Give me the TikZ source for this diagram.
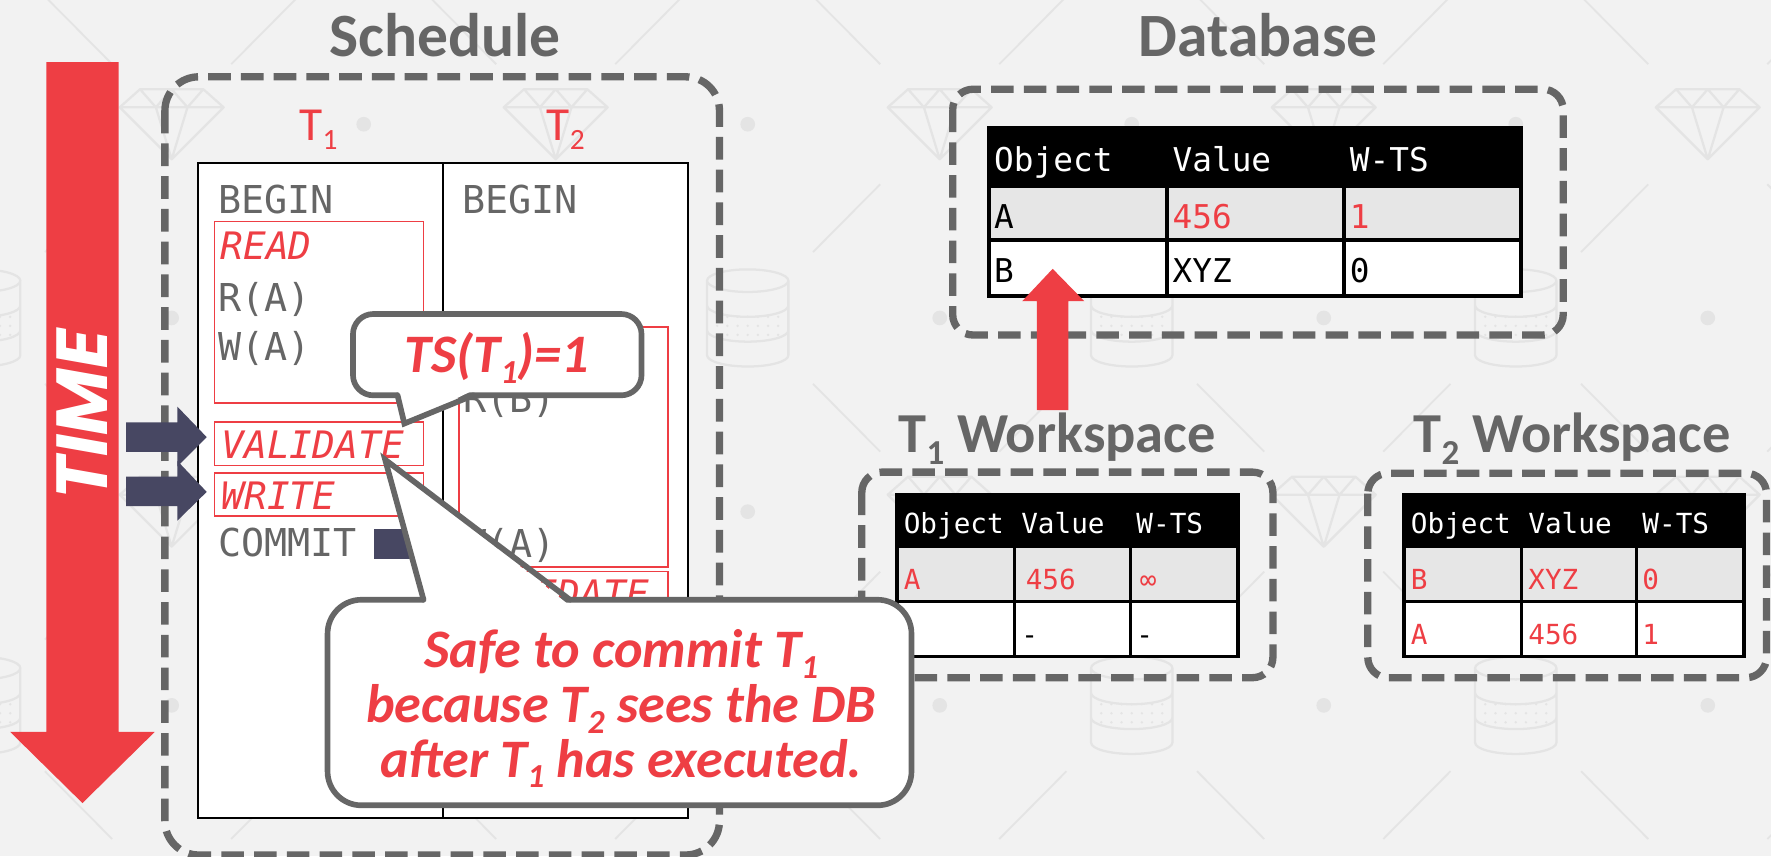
\documentclass[tikz,border=0pt]{standalone}
\usepackage{fontspec}
\setmainfont{Carlito}
\newfontfamily\monof{DejaVu Sans Mono}
\newfontfamily\timef{Poppins}
\definecolor{accent}{HTML}{EE3E44}
\definecolor{navy}{HTML}{474762}
\definecolor{ink}{HTML}{666666}
\definecolor{paper}{HTML}{F2F2F2}
\definecolor{rowgray}{HTML}{E6E6E6}
\definecolor{faint}{HTML}{E4E4E4}
% lowered, smaller index digit (T_1, T_2)
\newcommand\lowidx[1]{\raisebox{-0.2em}{\scalebox{0.62}{#1}}}
\tikzset{
  dashbox/.style={draw=ink, line width=6.5pt, dash pattern=on 20pt off 9pt, rounded corners=20pt},
  heading/.style={text=ink, font=\fontsize{54.5}{60}\selectfont\bfseries, anchor=base, inner sep=0pt},
  wsheading/.style={heading, font=\fontsize{50}{60}\selectfont\bfseries},
  txn/.style={text=accent, font=\fontsize{42}{50}\selectfont, anchor=base, inner sep=0pt},
  op/.style={font=\monof\fontsize{34}{40}\selectfont, text=ink, anchor=base west, inner sep=0pt},
  phase/.style={draw=accent, line width=1.5pt},
  phasetxt/.style={font=\monof\itshape\fontsize{33.5}{40}\selectfont, text=accent, anchor=base west, inner sep=0pt},
  bubble/.style={draw=ink, fill=white, line width=5pt},
  bubbletail/.style={draw=ink, line width=5pt, line cap=round, line join=miter},
  note/.style={font=\bfseries\itshape\fontsize{48}{50}\selectfont, text=accent, anchor=base, inner sep=0pt},
  dbcell/.style={font=\monof\fontsize{29}{34}\selectfont, anchor=base west, inner sep=0pt},
  wscell/.style={font=\monof\fontsize{24.5}{30}\selectfont, anchor=base west, inner sep=0pt},
  grid/.style={draw=black, line width=3.5pt},
  navyarrow/.style={fill=navy},
  timearrow/.style={fill=accent},
  wmline/.style={draw=faint, line width=1.6pt},
  gem/.pic={
    \draw[faint, line width=2pt, line join=round]
      (-28,-31) -- (28,-31) -- (46,-15) -- (0,31) -- (-46,-15) -- cycle
      (-46,-15) -- (46,-15)
      (-28,-31) -- (-14,-15) -- (0,-31) -- (14,-15) -- (28,-31)
      (-14,-15) -- (0,31) -- (14,-15);
  },
  drum/.pic={
    \draw[faint, line width=2pt]
      (0,-33) ellipse [x radius=36, y radius=10]
      (-36,-33) -- (-36,33) arc [start angle=180, end angle=0, x radius=36, y radius=10] -- (36,-33)
      (-36,-11) arc [start angle=180, end angle=0, x radius=36, y radius=10]
      (-36,11) arc [start angle=180, end angle=0, x radius=36, y radius=10];
    \foreach \u in {-27,-18,...,27} \foreach \v in {3,11,19}
      \fill[faint] (\u,\v-4) circle [radius=1.2pt];
  },
}
\begin{document}
\begin{tikzpicture}[x=1pt, y=-1pt]
\useasboundingbox (0,0) rectangle (1568,758);
\fill[paper] (0,0) rectangle (1568,758);

% ---------------- faint background tiling ----------------
\begin{scope}
\clip (0,0) rectangle (1568,758);
\foreach \i in {-1,1,...,9} \foreach \j in {-1,1,3,5} {
  \foreach \sx in {-1,1} \foreach \sy in {-1,1}
    \draw[wmline] ({152+170*\i+0.34*170*\sx},{110+171.5*\j+0.34*171.5*\sy})
               -- ({152+170*\i+0.69*170*\sx},{110+171.5*\j+0.69*171.5*\sy});
  \pic at ({152+170*\i},{110+171.5*\j}) {drum};
}
\foreach \i in {-2,0,...,10} \foreach \j in {0,2,4}
  \pic at ({152+170*\i},{110+171.5*\j}) {gem};
\foreach \i in {-1,1,...,9} \foreach \j in {0,2,4}
  \fill[faint] ({152+170*\i},{110+171.5*\j}) circle [radius=6.5pt];
\foreach \i in {-2,0,...,10} \foreach \j in {-1,1,3,5}
  \fill[faint] ({152+170*\i},{110+171.5*\j}) circle [radius=6.5pt];
\end{scope}

% ---------------- time axis ----------------
\fill[timearrow] (41,55) -- (105,55) -- (105,648) -- (137,648) -- (73,711) -- (9,648) -- (41,648) -- cycle;
\node[rotate=90, text=white, font=\timef\bfseries\itshape\fontsize{64}{70}\selectfont, inner sep=0pt] (time) at (73,367) {TIME};

% ---------------- schedule ----------------
\node[heading] (schedtitle) at (394,50) {Schedule};
\draw[dashbox, rounded corners=30pt] (146,68) rectangle (637,757);
\node[txn] (t1) at (282,124) {T\lowidx{1}};
\node[txn] (t2) at (501,124) {T\lowidx{2}};
\draw[fill=white, draw=black, line width=1.5pt] (175,144.6) rectangle (609,724);
\draw[black, line width=1.5pt] (392,144.6) -- (392,724);

% T1 column
\node[op] (b1) at (193,189) {BEGIN};
\draw[phase] (190,196) rectangle (375,357);
\node[phasetxt] (read1) at (195,230) {READ};
\node[op] (ra) at (193,276) {R(A)};
\node[op] (wa) at (193,319) {W(A)};
\draw[phase] (190,373.5) rectangle (375,412);
\node[phasetxt] (val1) at (196,405.5) {VALIDATE};
\draw[phase] (190,419) rectangle (375,457);
\node[phasetxt] (wr1) at (196,451) {WRITE};
\node[op] (c1) at (193,493) {COMMIT};
\fill[navy] (331,468) rectangle (372,495);

% T2 column
\node[op] (b2) at (409,189) {BEGIN};
\draw[phase] (406.6,289.5) rectangle (591.6,502);
\node[op] (rb) at (410,365) {R(B)};
\node[op] (wa2) at (410,494) {W(A)};
\draw[phase] (406.6,506) rectangle (591.6,544);
\node[phasetxt] (val2) at (413,538) {VALIDATE};

% arrows marking the current step of T1
\fill[navyarrow] (111.6,374) -- (157,374) -- (157,360) -- (183,387) -- (157,413) -- (157,400) -- (111.6,400) -- cycle;
\fill[navyarrow] (111.6,422) -- (157,422) -- (157,408) -- (183,435.5) -- (157,461) -- (157,448) -- (111.6,448) -- cycle;

% ---------------- database ----------------
\node[heading] (dbtitle) at (1114,50) {Database};
\draw[dashbox, rounded corners=18pt] (843.5,79) rectangle (1384,296.6);
\fill[black] (875.6,113) rectangle (1346.6,164.4);
\fill[rowgray] (875.6,164.4) rectangle (1346.6,212.5);
\fill[white] (875.6,212.5) rectangle (1346.6,262);
\draw[grid] (875.6,113) rectangle (1346.6,262);
\draw[grid] (875.6,164.4) -- (1346.6,164.4) (875.6,212.5) -- (1346.6,212.5)
            (1033,113) -- (1033,262) (1190,113) -- (1190,262);
\node[dbcell, text=white] (dbh1) at (880,152) {Object};
\node[dbcell, text=white] (dbh2) at (1038,152) {Value};
\node[dbcell, text=white] (dbh3) at (1195,152) {W-TS};
\node[dbcell] (dba1) at (880,202) {A};
\node[dbcell, text=accent] (dba2) at (1038,202) {456};
\node[dbcell, text=accent] (dba3) at (1195,202) {1};
\node[dbcell] (dbb1) at (880,250) {B};
\node[dbcell] (dbb2) at (1038,250) {XYZ};
\node[dbcell] (dbb3) at (1195,250) {0};

% write-back of T1 into the database
\fill[timearrow] (918,363) -- (946,363) -- (946,266.7) -- (960,266.7) -- (932,238) -- (905,266.7) -- (918,266.7) -- cycle;

% ---------------- T1 workspace ----------------
\node[wsheading] (ws1title) at (936,401) {T\lowidx{1} Workspace};
\draw[dashbox, rounded corners=18pt] (763,418) rectangle (1127,600);
\begin{scope}[shift={(794,0)}]
  \fill[black] (0,438) rectangle (302,484);
  \fill[rowgray] (0,484) rectangle (302,532.5);
  \fill[white] (0,532.5) rectangle (302,581);
  \draw[grid, line width=3pt] (0,438) rectangle (302,581);
  \draw[grid, line width=3pt] (0,484) -- (302,484) (0,532.5) -- (302,532.5)
              (104,438) -- (104,581) (207,438) -- (207,581);
  \node[wscell, text=white] (w1h1) at (6,472) {Object};
  \node[wscell, text=white] (w1h2) at (110,472) {Value};
  \node[wscell, text=white] (w1h3) at (212,472) {W-TS};
  \node[wscell, text=accent] (w1a1) at (6,522) {A};
  \node[wscell, text=accent] (w1a2) at (114,522) {456};
  \node[wscell, text=accent] (w1a3) at (215,522) {∞};
  \node[wscell] (w1b2) at (110,571) {-};
  \node[wscell] (w1b3) at (212,571) {-};
\end{scope}

% ---------------- T2 workspace ----------------
\node[wsheading] (ws2title) at (1392,401) {T\lowidx{2} Workspace};
\draw[dashbox, rounded corners=18pt] (1211,419) rectangle (1564,600);
\begin{scope}[shift={(1243,0)}]
  \fill[black] (0,438) rectangle (301,484);
  \fill[rowgray] (0,484) rectangle (301,532.5);
  \fill[white] (0,532.5) rectangle (301,581);
  \draw[grid, line width=3pt] (0,438) rectangle (301,581);
  \draw[grid, line width=3pt] (0,484) -- (301,484) (0,532.5) -- (301,532.5)
              (104,438) -- (104,581) (206,438) -- (206,581);
  \node[wscell, text=white] (w2h1) at (6,472) {Object};
  \node[wscell, text=white] (w2h2) at (110,472) {Value};
  \node[wscell, text=white] (w2h3) at (211,472) {W-TS};
  \node[wscell, text=accent] (w2a1) at (6,522) {B};
  \node[wscell, text=accent] (w2a2) at (110,522) {XYZ};
  \node[wscell, text=accent] (w2a3) at (211,522) {0};
  \node[wscell, text=accent] (w2b1) at (6,571) {A};
  \node[wscell, text=accent] (w2b2) at (110,571) {456};
  \node[wscell, text=accent] (w2b3) at (211,571) {1};
\end{scope}

% ---------------- speech bubbles ----------------
% timestamp bubble
\draw[bubble, rounded corners=18pt] (312.5,278) rectangle (568,350);
\fill[white] (352.5,346) -- (418,346) -- (358,375) -- cycle;
\draw[bubbletail] (352,350) -- (358,375) -- (419,350);
\node[note] (ts) at (440,330) {TS(T\lowidx{1})=1};

% explanation bubble
\draw[bubble, rounded corners=30pt] (290,531) rectangle (807,713);
\fill[white] (376,535) -- (503,535) -- (341,407) -- cycle;
\draw[bubbletail] (375,531) -- (341,407) -- (504.6,531);
\node[note] (l1) at (550,591) {Safe to commit T\lowidx{1}};
\node[note] (l2) at (550,640) {because T\lowidx{2} sees the DB};
\node[note] (l3) at (550,688) {after T\lowidx{1} has executed.};
\end{tikzpicture}
\end{document}
